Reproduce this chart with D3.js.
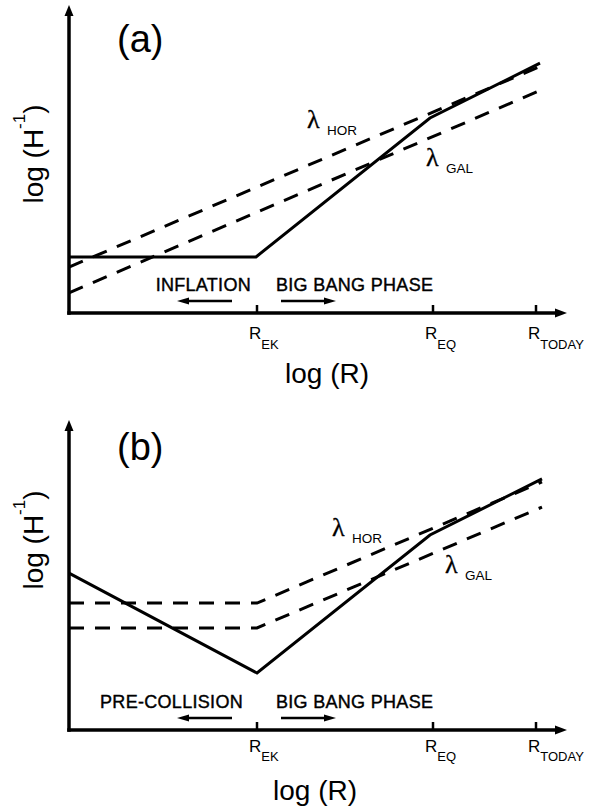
<!DOCTYPE html>
<html>
<head>
<meta charset="utf-8">
<script src="https://cdn.jsdelivr.net/npm/d3@7"></script>
<style>
  body { margin: 0; background: #fff; }
  text { font-family: "Liberation Sans", Arial, Helvetica, sans-serif; fill: #000; }
</style>
</head>
<body>
<svg id="chart" width="603" height="812"></svg>
<script>
// x positions of the marked epochs (log R, arbitrary units)
const xTickNames = ["EK", "EQ", "TODAY"];
const xTickValues = [37.6, 72.8, 93.4];

// panel (a): inflation
const solidA = [[0, 18.7], [37.4, 18.7], [72.2, 65], [94.2, 83.3]];
const horA = [[0, 15.3], [94.4, 82.3]];
const galA = [[0, 6.7], [94.4, 74.3]];

// panel (b): ekpyrotic / pre-collision
const solidB = [[0, 52.3], [37.6, 19], [72.2, 65], [94.6, 83.7]];
const horB = [[0, 42.3], [37.6, 42.3], [94.6, 82.7]];
const galB = [[0, 34], [37.6, 34], [94.6, 74.3]];

const phaseA = ["INFLATION", "BIG BANG PHASE"];
const phaseB = ["PRE-COLLISION", "BIG BANG PHASE"];

// where the lambda labels sit, in data units
const lambdaA = [{name: "HOR", x: 47.6, y: 61.7}, {name: "GAL", x: 71.4, y: 49}];
const lambdaB = [{name: "HOR", x: 52.6, y: 64.7}, {name: "GAL", x: 75.2, y: 52.3}];

const panels = [
    {title: "(a)", titleY: 52, axisY: 313, topY: 5, yLabelMid: 154, xLabelX: 327, xLabelY: 383,
     tickLabelDy: 26, subDy: 10, leftTextEnd: -6,
     solid: solidA, hor: horA, gal: galA, phase: phaseA, lambda: lambdaA},
    {title: "(b)", titleY: 460, axisY: 730, topY: 420, yLabelMid: 540, xLabelX: 315, xLabelY: 800,
     tickLabelDy: 22, subDy: 9, leftTextEnd: -14,
     solid: solidB, hor: horB, gal: galB, phase: phaseB, lambda: lambdaB}
];

const svg = d3.select('#chart');

const xScale = d3.scaleLinear()
    .domain([0, 100])
    .range([69, 569]);

panels.forEach(p => drawPanel(svg.append('g'), p));

function drawPanel(g, p) {

    const yScale = d3.scaleLinear()
        .domain([0, 100])
        .range([p.axisY, p.axisY - 300]);

    const line = d3.line()
        .x(d => xScale(d[0]))
        .y(d => yScale(d[1]));

    const x0 = xScale(0);

    // axes with arrow heads
    g.append('line')
        .attr('x1', x0 - 1.75).attr('y1', p.axisY)
        .attr('x2', 558).attr('y2', p.axisY)
        .style('stroke', 'black').style('stroke-width', 3.5);
    g.append('path')
        .attr('d', `M567,${p.axisY} L555,${p.axisY - 4.5} L555,${p.axisY + 4.5} Z`)
        .style('fill', 'black');

    g.append('line')
        .attr('x1', x0).attr('y1', p.axisY + 1.75)
        .attr('x2', x0).attr('y2', p.topY + 9)
        .style('stroke', 'black').style('stroke-width', 3.5);
    g.append('path')
        .attr('d', `M${x0},${p.topY} L${x0 - 4.5},${p.topY + 11} L${x0 + 4.5},${p.topY + 11} Z`)
        .style('fill', 'black');

    // ticks and their labels
    xTickValues.forEach((v, i) => {
        const tx = xScale(v);
        g.append('line')
            .attr('x1', tx).attr('y1', p.axisY)
            .attr('x2', tx).attr('y2', p.axisY - 8)
            .style('stroke', 'black').style('stroke-width', 2.5);

        const label = g.append('text')
            .attr('x', tx - 8)
            .attr('y', p.axisY + p.tickLabelDy)
            .style('font-size', '17px')
            .text('R');
        label.append('tspan')
            .attr('dy', p.subDy)
            .style('font-size', '13px')
            .text(xTickNames[i]);
    });

    // curves
    g.append('path')
        .datum(p.solid)
        .attr('d', line)
        .style('fill', 'none')
        .style('stroke', 'black')
        .style('stroke-width', 3)
        .style('stroke-linejoin', 'miter');

    [p.hor, p.gal].forEach(d => {
        g.append('path')
            .datum(d)
            .attr('d', line)
            .style('fill', 'none')
            .style('stroke', 'black')
            .style('stroke-width', 3)
            .style('stroke-dasharray', '15,11');
    });

    // lambda labels
    p.lambda.forEach(d => {
        const lx = xScale(d.x);
        const ly = yScale(d.y);
        g.append('text')
            .attr('x', lx)
            .attr('y', ly)
            .style('font-family', '"Liberation Serif", "Times New Roman", serif')
            .style('font-size', '26px')
            .style('stroke', 'black')
            .style('stroke-width', 0.3)
            .text('λ');
        g.append('text')
            .attr('x', lx + 20)
            .attr('y', ly + 7)
            .style('font-size', '13.5px')
            .text(d.name);
    });

    // phase annotations around R_EK
    const ek = xScale(xTickValues[0]);
    g.append('text')
        .attr('x', ek + p.leftTextEnd)
        .attr('y', p.axisY - 22)
        .attr('text-anchor', 'end')
        .style('font-size', '18px')
        .style('letter-spacing', '0.3px')
        .style('stroke', 'black')
        .style('stroke-width', 0.4)
        .text(p.phase[0]);
    g.append('text')
        .attr('x', ek + 19)
        .attr('y', p.axisY - 22)
        .style('font-size', '18px')
        .style('letter-spacing', '0.3px')
        .style('stroke', 'black')
        .style('stroke-width', 0.4)
        .text(p.phase[1]);

    drawArrow(g, ek - 25, ek - 80, p.axisY - 12);
    drawArrow(g, ek + 24, ek + 79, p.axisY - 12);

    // titles
    g.append('text')
        .attr('x', 117)
        .attr('y', p.titleY)
        .style('font-size', '38px')
        .text(p.title);

    g.append('text')
        .attr('x', p.xLabelX)
        .attr('y', p.xLabelY)
        .attr('text-anchor', 'middle')
        .style('font-size', '28px')
        .text('log (R)');

    const yLabel = g.append('text')
        .attr('transform', `translate(43, ${p.yLabelMid}) rotate(-90)`)
        .attr('text-anchor', 'middle')
        .style('font-size', '28px')
        .text('log (H');
    yLabel.append('tspan')
        .attr('dy', -18)
        .style('font-size', '17px')
        .text('-1');
    yLabel.append('tspan')
        .attr('dy', 18)
        .text(')');
}

function drawArrow(g, x1, x2, y) {
    const dir = x2 > x1 ? 1 : -1;
    g.append('line')
        .attr('x1', x1).attr('y1', y)
        .attr('x2', x2 - dir * 8).attr('y2', y)
        .style('stroke', 'black')
        .style('stroke-width', 2.5);
    g.append('path')
        .attr('d', `M${x2},${y} L${x2 - dir * 12},${y - 3.5} L${x2 - dir * 12},${y + 3.5} Z`)
        .style('fill', 'black');
}
</script>
</body>
</html>
